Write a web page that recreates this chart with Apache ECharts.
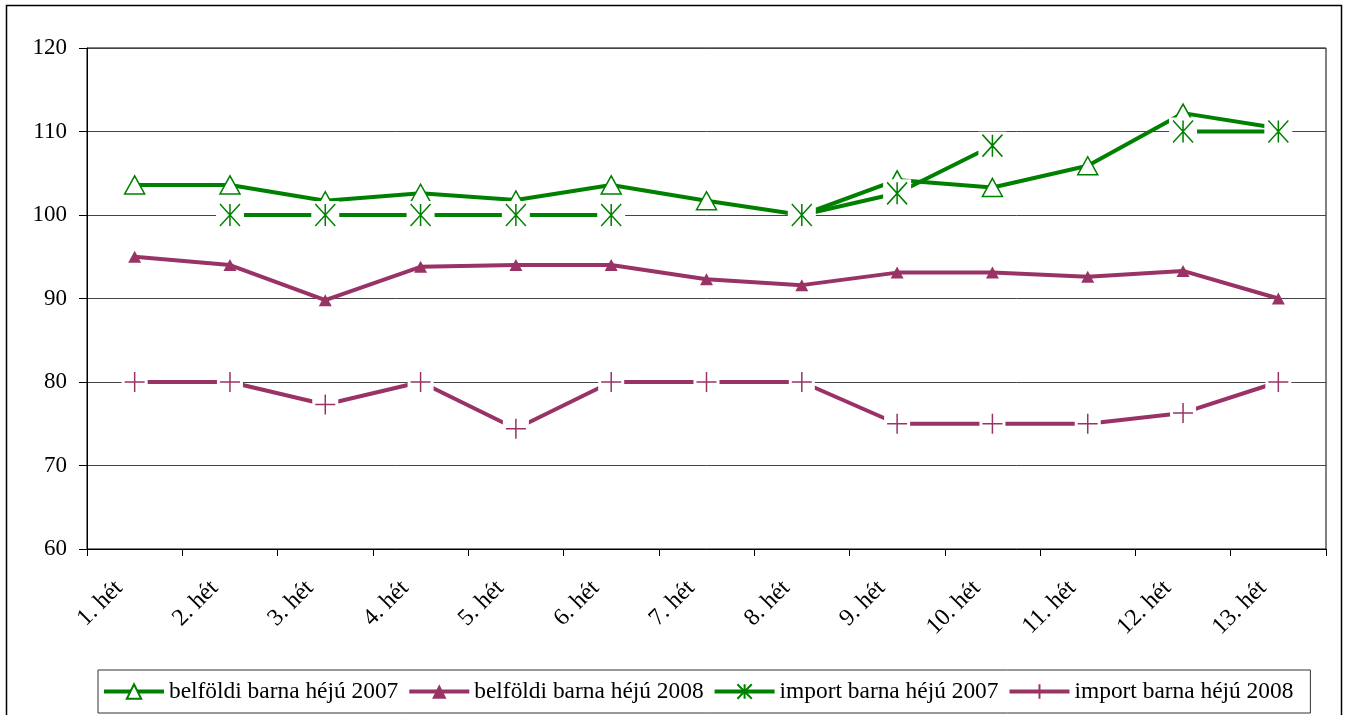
<!DOCTYPE html>
<html>
<head>
<meta charset="utf-8">
<script src="https://cdn.jsdelivr.net/npm/echarts@6/dist/echarts.min.js"></script>
<style>
html,body{margin:0;padding:0;background:#fff;}
#chart{width:1346px;height:715px;}
</style>
</head>
<body>
<div id="chart"></div>
<script>
const categories = ['1. hét','2. hét','3. hét','4. hét','5. hét','6. hét','7. hét','8. hét','9. hét','10. hét','11. hét','12. hét','13. hét'];
const belfoldi2007 = [103.6,103.6,101.7,102.6,101.8,103.6,101.7,100,104.2,103.3,105.9,112.2,110.4];
const belfoldi2008 = [95.0,94.0,89.8,93.8,94.0,94.0,92.3,91.6,93.1,93.1,92.6,93.3,90.0];
const import2007 = [null,100,100,100,100,100,null,100,102.6,108.3,null,110,110];
const import2008 = [80,80,77.3,80,74.4,80,80,80,75,75,75,76.3,80];
const seriesNames = ['belföldi barna héjú 2007','belföldi barna héjú 2008','import barna héjú 2007','import barna héjú 2008'];
const yTicks = [60,70,80,90,100,110,120];

const GREEN = '#008000', PLUM = '#993366';
const FONT = '"Liberation Serif","Times New Roman",serif';
const STAR = 'path://M0,0L20,22M20,0L0,22M10,0L10,22';
const PLUS = 'path://M0,10L20,10M10,0L10,20';

const defs = [
  {data: belfoldi2007, color: GREEN, symbol: 'triangle', size: [20,18], fill: '#fff', bw: 1.5, mask: null},
  {data: belfoldi2008, color: PLUM, symbol: 'triangle', size: [13,12], fill: PLUM, bw: 0, mask: null},
  {data: import2007, color: GREEN, symbol: STAR, size: [20,22], fill: GREEN, bw: 1.6, mask: [28,28]},
  {data: import2008, color: PLUM, symbol: PLUS, size: [20,20], fill: PLUM, bw: 1.5, mask: [26,26]}
];

const series = [];
defs.forEach((d, i) => {
  const base = i * 3;
  series.push({
    name: '_line' + i, type: 'line', data: d.data, z: base + 1, silent: true,
    symbol: 'none', connectNulls: false, animation: false,
    lineStyle: {color: d.color, width: 4}, itemStyle: {color: d.color}
  });
  if (d.mask) {
    series.push({
      name: '_mask' + i, type: 'line', data: d.data, z: base + 2, silent: true,
      symbol: 'rect', symbolSize: d.mask, showAllSymbol: true, animation: false,
      lineStyle: {opacity: 0}, itemStyle: {color: '#fff'}
    });
  }
  series.push({
    name: seriesNames[i], type: 'line', data: d.data, z: base + 3, silent: true,
    symbol: d.symbol, symbolSize: d.size, showAllSymbol: true, animation: false,
    connectNulls: false,
    lineStyle: {color: d.color, width: 4, opacity: 0},
    itemStyle: {color: d.fill, borderColor: d.color, borderWidth: d.bw}
  });
});

const chart = echarts.init(document.getElementById('chart'));
chart.setOption({
  animation: false,
  backgroundColor: '#fff',
  graphic: [{
    type: 'rect', z: -10, silent: true,
    shape: {x: 6.5, y: 5.5, width: 1335, height: 740},
    style: {fill: 'none', stroke: '#000', lineWidth: 1.5}
  }],
  grid: {left: 87, right: 20, top: 48, bottom: 166, show: true, borderColor: '#000', borderWidth: 1, backgroundColor: 'transparent'},
  legend: {
    data: seriesNames.map((n, i) => ({
      name: n,
      lineStyle: {color: defs[i].color, width: 4, opacity: 1}
    })),
    left: 98, bottom: 2,
    itemWidth: 60, itemHeight: 18, itemGap: 9,
    padding: [10, 17, 10, 4],
    borderColor: '#333', borderWidth: 1,
    textStyle: {fontFamily: FONT, fontSize: 23.4, color: '#000'},
    selectedMode: false
  },
  xAxis: {
    type: 'category', data: categories, boundaryGap: true,
    axisLine: {lineStyle: {color: '#000', width: 1}},
    axisTick: {show: true, alignWithLabel: false, length: 7, lineStyle: {color: '#000'}},
    axisLabel: {rotate: 45, margin: 20, padding: [0, 22, 0, 0], fontFamily: FONT, fontSize: 24, color: '#000', interval: 0},
    splitLine: {show: false}
  },
  yAxis: {
    type: 'value', min: 60, max: 120, interval: 10,
    axisLine: {show: true, lineStyle: {color: '#000', width: 1}},
    axisTick: {show: true, length: 8, lineStyle: {color: '#000'}},
    axisLabel: {margin: 20, fontFamily: FONT, fontSize: 23, color: '#000',
      formatter: v => yTicks.includes(v) ? String(v) : ''},
    splitLine: {show: true, lineStyle: {color: '#444', width: 1}}
  },
  series: series
});
</script>
</body>
</html>
